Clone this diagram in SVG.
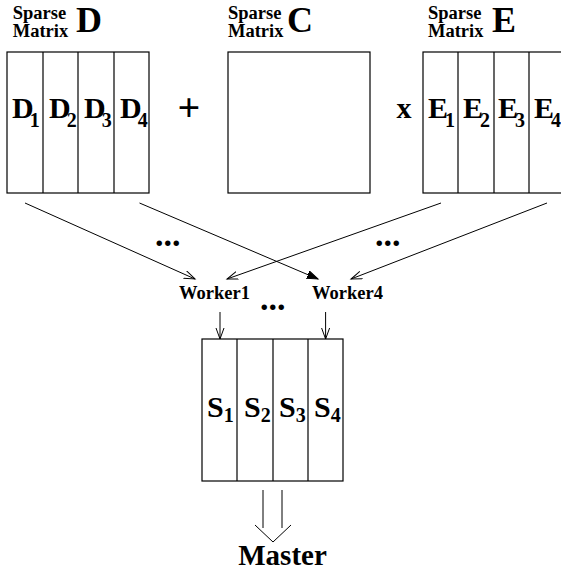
<svg xmlns="http://www.w3.org/2000/svg" width="561" height="571" viewBox="0 0 561 571">
<style>
  text { font-family: "Liberation Serif", "Times New Roman", serif; font-weight: bold; fill: #000; }
  .lbl { font-size: 18.5px; }
  .big { font-size: 36px; }
  .cell { font-size: 30px; }
  .sub { font-size: 20px; }
  .box { fill: #fff; stroke: #000; stroke-width: 1.2; }
  .div { stroke: #000; stroke-width: 1.2; }
  .conn { stroke: #000; stroke-width: 1; fill: none; }
  .dots { font-size: 34px; }
</style>
<defs>
  <marker id="open" markerUnits="userSpaceOnUse" markerWidth="14" markerHeight="10" refX="11" refY="4.5" orient="auto">
    <path d="M0,0.5 L11,4.5 L0,8.5" fill="none" stroke="#000" stroke-width="1"/>
  </marker>
  <marker id="filled" markerUnits="userSpaceOnUse" markerWidth="14" markerHeight="10" refX="11" refY="4.5" orient="auto">
    <path d="M0,0.5 L11,4.5 L0,8.5 Z" fill="#000" stroke="#000" stroke-width="1"/>
  </marker>
</defs>
<rect width="561" height="571" fill="#fff"/>

<g id="matrixD">
  <text class="lbl" x="12.7" y="19">Sparse</text>
  <text class="lbl" x="12.7" y="37">Matrix</text>
  <text class="big" x="76" y="32">D</text>
  <rect class="box" x="7" y="52" width="142" height="141"/>
  <line class="div" x1="43" y1="52" x2="43" y2="193"/>
  <line class="div" x1="78" y1="52" x2="78" y2="193"/>
  <line class="div" x1="114" y1="52" x2="114" y2="193"/>
  <text class="cell" x="12" y="118">D<tspan class="sub" dx="-4" dy="9">1</tspan></text>
  <text class="cell" x="49" y="118">D<tspan class="sub" dx="-4" dy="9">2</tspan></text>
  <text class="cell" x="84" y="118">D<tspan class="sub" dx="-4" dy="9">3</tspan></text>
  <text class="cell" x="120" y="118">D<tspan class="sub" dx="-4" dy="9">4</tspan></text>
</g>

<g id="plus">
  <text x="189" y="121" font-size="40" text-anchor="middle">+</text>
</g>

<g id="matrixC">
  <text class="lbl" x="228" y="19">Sparse</text>
  <text class="lbl" x="228" y="37">Matrix</text>
  <text class="big" x="287" y="32">C</text>
  <rect class="box" x="228" y="52" width="142" height="141"/>
</g>

<g id="times">
  <text x="404" y="118" font-size="30" text-anchor="middle">x</text>
</g>

<g id="matrixE">
  <text class="lbl" x="428" y="19">Sparse</text>
  <text class="lbl" x="428" y="37">Matrix</text>
  <text class="big" x="492" y="32">E</text>
  <rect class="box" x="423" y="52" width="142" height="141"/>
  <line class="div" x1="458" y1="52" x2="458" y2="193"/>
  <line class="div" x1="494" y1="52" x2="494" y2="193"/>
  <line class="div" x1="529" y1="52" x2="529" y2="193"/>
  <text class="cell" x="428" y="118">E<tspan class="sub" dx="-3" dy="9">1</tspan></text>
  <text class="cell" x="463" y="118">E<tspan class="sub" dx="-3" dy="9">2</tspan></text>
  <text class="cell" x="498" y="118">E<tspan class="sub" dx="-3" dy="9">3</tspan></text>
  <text class="cell" x="534" y="118">E<tspan class="sub" dx="-3" dy="9">4</tspan></text>
</g>

<g id="worker1">
  <text class="lbl" x="179" y="299">Worker1</text>
</g>
<g id="worker4">
  <text class="lbl" x="312" y="299">Worker4</text>
</g>

<g id="matrixS">
  <rect class="box" x="202" y="339" width="141" height="142"/>
  <line class="div" x1="237" y1="339" x2="237" y2="481"/>
  <line class="div" x1="273" y1="339" x2="273" y2="481"/>
  <line class="div" x1="308" y1="339" x2="308" y2="481"/>
  <text class="cell" x="207" y="417">S<tspan class="sub" dy="5">1</tspan></text>
  <text class="cell" x="244" y="417">S<tspan class="sub" dy="5">2</tspan></text>
  <text class="cell" x="279" y="417">S<tspan class="sub" dy="5">3</tspan></text>
  <text class="cell" x="314" y="417">S<tspan class="sub" dy="5">4</tspan></text>
</g>

<g id="master">
  <text x="282.5" y="565" font-size="29" text-anchor="middle">Master</text>
</g>

<g id="connectors">
  <line class="conn" x1="25" y1="203" x2="195" y2="279" marker-end="url(#open)"/>
  <line class="conn" x1="139.5" y1="203" x2="318" y2="279" marker-end="url(#filled)"/>
  <line class="conn" x1="441" y1="203" x2="227" y2="279" marker-end="url(#open)"/>
  <line class="conn" x1="547" y1="203" x2="351" y2="279" marker-end="url(#open)"/>
  <line class="conn" x1="220" y1="312" x2="220" y2="339" marker-end="url(#open)"/>
  <line class="conn" x1="325.6" y1="312" x2="325.6" y2="339" marker-end="url(#open)"/>
  <line class="conn" x1="263" y1="490" x2="263" y2="528"/>
  <line class="conn" x1="282" y1="490" x2="282" y2="528"/>
  <path class="conn" d="M255,525 L273,542 L291,525"/>
  <text class="dots" x="155" y="246">...</text>
  <text class="dots" x="375" y="246">...</text>
  <text class="dots" x="260" y="310">...</text>
</g>
</svg>
